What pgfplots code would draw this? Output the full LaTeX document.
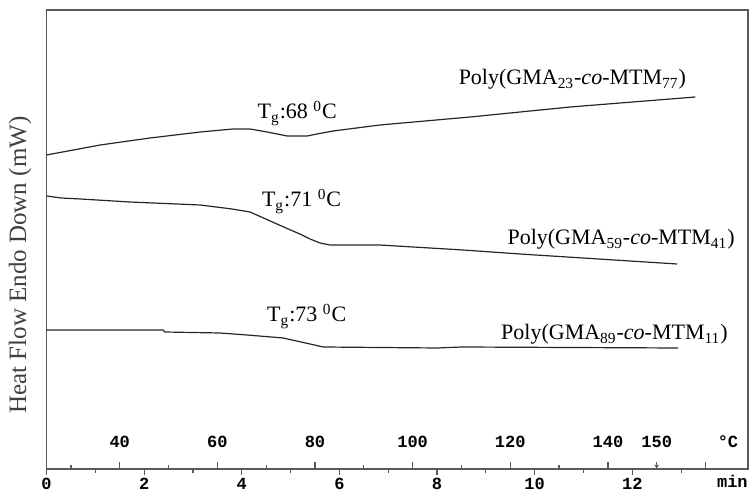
\documentclass[border=0pt]{standalone}
\usepackage{pgfplots}
\pgfplotsset{compat=1.18}
\usetikzlibrary{arrows.meta}
\usepackage{fontspec}
\setmainfont{Liberation Serif}
\newfontfamily\monofont{Liberation Mono}

% curves: x in min, y in arbitrary units (0.5pt per unit)
\pgfplotstableread{
t v
0.00 315
1.10 325
2.12 332
3.15 338
3.82 341
4.17 341
4.52 338
4.93 334
5.34 334
5.54 336
5.87 339
6.83 345
8.68 353
10.73 363
13.29 373
}\gmaA
\pgfplotstableread{
t v
0.00 274
0.30 272
0.70 271
1.70 268
3.15 265
3.80 261
4.17 258
4.72 246
5.00 240
5.19 236
5.40 231
5.60 227
5.81 225
6.83 225
8.53 220
9.70 216
12.92 206
}\gmaB
\pgfplotstableread{
t v
0.00 140
2.39 140
2.42 138
3.55 137
4.11 135
4.85 132
5.67 123
8.00 122
8.50 123
12.94 122
}\gmaC

\begin{document}
\begin{tikzpicture}
\begin{axis}[name=ax, scale only axis, width=350.75pt, height=229.5pt,
  xmin=0, xmax=14.37, ymin=1, ymax=460,
  axis line style={black!65, line width=0.6pt},
  ytick=\empty,
  xtick={0,2,...,12}, minor xtick={1,3,...,13},
  xtick pos=bottom, tick align=outside,
  major tick length=3pt, minor tick length=2pt,
  tick style={black!65, line width=0.6pt},
  /pgf/number format/assume math mode=true,
  tick label style={font=\monofont\bfseries\fontsize{8.5}{10}\selectfont},
  xticklabel style={yshift=1.8pt},
  clip=false]
\addplot[black!85, line width=0.6pt] table[x=t, y=v] {\gmaA};
\addplot[black!85, line width=0.6pt] table[x=t, y=v] {\gmaB};
\addplot[black!85, line width=0.6pt] table[x=t, y=v] {\gmaC};

\node[anchor=base west, font=\fontsize{11}{13}\selectfont] at (axis cs:4.18,351) {T\textsubscript{g}:68 \textsuperscript{0}C};
\node[anchor=base west, font=\fontsize{11}{13}\selectfont] at (axis cs:4.27,263) {T\textsubscript{g}:71 \textsuperscript{0}C};
\node[anchor=base west, font=\fontsize{11}{13}\selectfont] at (axis cs:4.375,148) {T\textsubscript{g}:73 \textsuperscript{0}C};
\node[anchor=base west, font=\fontsize{11}{13}\selectfont] at (axis cs:8.3,385) {Poly(GMA\textsubscript{23}-\textit{co}-MTM\textsubscript{77})};
\node[anchor=base west, font=\fontsize{11}{13}\selectfont] at (axis cs:9.3,225) {Poly(GMA\textsubscript{59}-\textit{co}-MTM\textsubscript{41})};
\node[anchor=base west, font=\fontsize{11}{13}\selectfont] at (axis cs:9.17,130) {Poly(GMA\textsubscript{89}-\textit{co}-MTM\textsubscript{11})};

\node[rotate=90, font=\fontsize{12.5}{14}\selectfont, text=black!75] at ([xshift=-13.25pt]rel axis cs:0,0.444) {Heat Flow Endo Down (mW)};
\node[anchor=base, font=\monofont\bfseries\fontsize{8.5}{10}\selectfont] at ([yshift=-9.3pt]axis cs:14.05,1) {min};
\draw[black!65, line width=0.5pt, -{Stealth[length=2pt,width=2.5pt]}] (axis cs:12.5,8) -- (axis cs:12.5,1.5);
\end{axis}

% temperature scale on the same axis line
\begin{axis}[scale only axis, width=350.75pt, height=229.5pt,
  xmin=25, xmax=168.7, ymin=0, ymax=1,
  axis x line*=bottom, axis y line=none,
  axis line style={draw=none},
  xtick={40,60,...,160}, xticklabels={40,60,80,100,120,140,},
  minor xtick={30,50,...,130},
  extra x ticks={150,164.6}, extra x tick labels={150,°C},
  extra x tick style={major tick length=0pt},
  tick align=inside, major tick length=3.5pt, minor tick length=2pt,
  tick style={black!65, line width=0.6pt},
  /pgf/number format/assume math mode=true,
  xticklabel style={anchor=base, yshift=10.5pt, font=\monofont\bfseries\fontsize{8.5}{10}\selectfont}]
\end{axis}

\pgfresetboundingbox
\path[use as bounding box] ([xshift=-23.25pt,yshift=-11.5pt]ax.south west) rectangle ([xshift=1pt,yshift=5pt]ax.north east);
\end{tikzpicture}
\end{document}
